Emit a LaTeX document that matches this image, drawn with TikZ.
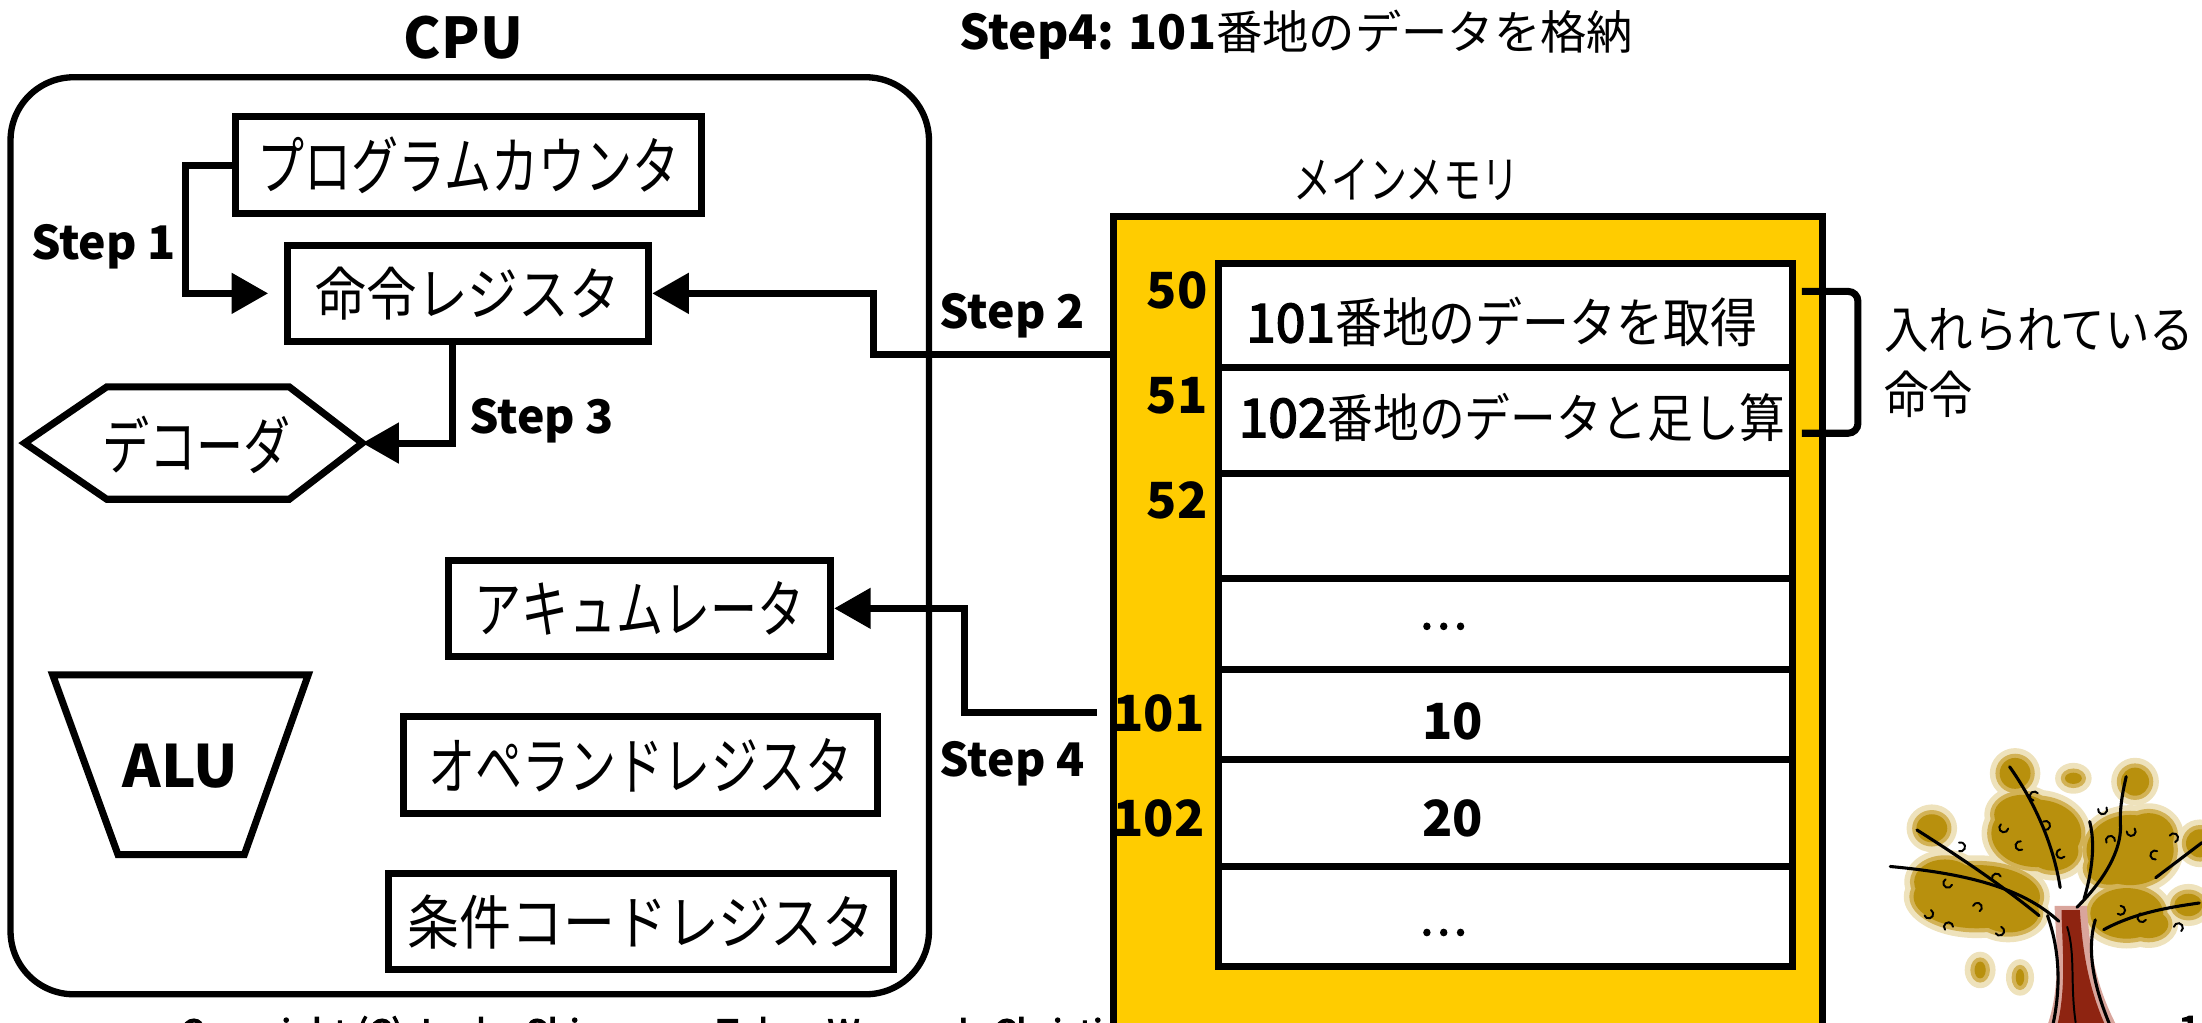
\documentclass[tikz,border=0pt]{standalone}
\usepackage{fontspec}
\setmainfont{Noto Sans CJK JP}
\newfontfamily\jpa{Noto Sans CJK JP}[FakeStretch=0.75]
\newfontfamily\jpb{Noto Sans CJK JP}[FakeStretch=0.88]
\newfontfamily\jpc{Noto Sans CJK JP}
\newfontfamily\latm{Noto Sans CJK JP}[FakeBold=3]
\usetikzlibrary{arrows.meta}
\newcommand\setfs[1]{\fontsize{#1}{#1}\selectfont}
\definecolor{memyellow}{HTML}{FFCC00}
\definecolor{leafcore}{HTML}{B8900D}
\definecolor{leafmid}{HTML}{D2B256}
\definecolor{leafhalo}{HTML}{EEE2BC}
\definecolor{bark}{HTML}{8E2411}
\definecolor{barkedge}{HTML}{D9A59C}
\tikzset{
  box/.style={draw, line width=5pt, fill=white, inner sep=0pt},
  cell/.style={draw, line width=5pt, fill=white, inner sep=0pt, minimum width=409pt},
  conn/.style={line width=5pt, -{Triangle[length=26pt,width=28pt]}},
  steplbl/.style={font=\setfs{33}\bfseries, inner sep=0pt, anchor=base west},
  jpbox/.style={font=\jpa\setfs{44.7}},
  addr/.style={font=\setfs{35.5}\bfseries, anchor=east, inner sep=0pt},
  celltxt/.style={inner sep=0pt},
  branch/.style={line width=2.2pt, line cap=round},
  curl/.style={line width=1.4pt, line cap=round},
}
\begin{document}
\begin{tikzpicture}[x=1pt, y=-1pt]
\useasboundingbox (0,0) rectangle (1568,728);
\clip (0,0) rectangle (1568,728);

% ---------------- CPU ----------------
\node[font=\setfs{40}\bfseries, inner sep=0pt, anchor=base] (cputitle) at (330,41.5) {CPU};
\draw[line width=4.5pt, rounded corners=45pt] (7.5,55) rectangle (661.5,708);

\node[box, jpbox, minimum width=332pt, minimum height=68.6pt] (pc) at (333.5,117.5) {プログラムカウンタ};
\node[box, font=\jpb\setfs{41}, minimum width=257.5pt, minimum height=68.7pt] (ir) at (333.2,208.9) {命令レジスタ};

% decoder hexagon
\draw[line width=5pt, line join=miter] (17.5,315.5) -- (76,275.5) -- (206,275.5) -- (258,315.5)
      -- (206,355.5) -- (76,355.5) -- cycle;
\node[jpbox, inner sep=0pt] (dec) at (140,317) {デコーダ};
\coordinate (decE) at (258,315.5);

\node[box, jpbox, minimum width=272pt, minimum height=68.5pt] (acc) at (455.5,433.2) {アキュムレータ};

% ALU trapezoid
\draw[line width=5pt, line join=miter] (37.5,480.5) -- (219.5,480.5) -- (174,608.5) -- (84,608.5) -- cycle;
\node[font=\setfs{41.6}\bfseries, inner sep=0pt, anchor=base] (alu) at (128.5,561) {ALU};

\node[box, jpbox, minimum width=337pt, minimum height=68.7pt] (opr) at (456,544.8) {オペランドレジスタ};
\node[box, font=\jpb\setfs{42}, minimum width=360pt, minimum height=68.5pt] (ccr) at (456.5,656.2) {条件コードレジスタ};

% ---------------- connectors ----------------
\draw[conn, shorten >=11pt] (pc.west) -- ++(-33,0) |- (ir.west);
\node[steplbl] (s1) at (22,185) {Step 1};

\draw[conn] ([xshift=-11pt]ir.south) |- (decE);
\node[steplbl] (s3) at (334,308.6) {Step 3};

\coordinate (m50) at (825,236.5);
\coordinate (k2) at (622,252.5);
\draw[conn, line join=miter] (m50) |- (k2) |- (ir.east);
\node[steplbl] (s2) at (669,234) {Step 2};

\coordinate (m101) at (781,507.5);
\coordinate (k4) at (687,507.5);
\draw[conn, line join=miter] (m101) -- (k4) |- (acc.east);
\node[steplbl] (s4) at (669,553) {Step 4};

% ---------------- header ----------------
\node[inner sep=0pt, anchor=west] (head) at (683,24.5)
  {\setfs{34}\bfseries Step4: 101\jpc\mdseries\setfs{33}番地のデータを格納};

% footer text (partly hidden behind the memory block)
\node[font=\latm\setfs{26}, inner sep=0pt, anchor=base west] (copy) at (128,745)
  {Copyright (C) Junko Shirogane, Tokyo Woman's Christian University};

% ---------------- main memory ----------------
\node[font=\jpa\setfs{36}, inner sep=0pt] (memtitle) at (1001.5,128.3) {メインメモリ};
\filldraw[fill=memyellow, line width=5pt] (793,154.5) rectangle (1297.5,745);

\node[cell, minimum height=74.5pt] (c50)  at (1072,224.75) {};
\node[cell, minimum height=75pt]   (c51)  at (1072,299.5) {};
\node[cell, minimum height=75pt]   (c52)  at (1072,374.5) {};
\node[cell, minimum height=65pt]   (cd1)  at (1072,444.5) {};
\node[cell, minimum height=64pt]   (c101) at (1072,509) {};
\node[cell, minimum height=76pt]   (c102) at (1072,579) {};
\node[cell, minimum height=71.3pt] (cd2)  at (1072,652.65) {};

\node[celltxt] (t50) at (1069.5,229) {\latm\setfs{38}101\jpb\setfs{38}番地のデータを取得};
\node[celltxt] (t51) at (1076.5,297) {\latm\setfs{38}102\jpb\setfs{37}番地のデータと足し算};
\node[celltxt, font=\latm\setfs{32}] (td1) at (1027.5,446) {…};
\node[celltxt, font=\setfs{35.5}\bfseries] (t101) at (1034.5,514) {10};
\node[celltxt, font=\setfs{35.5}\bfseries] (t102) at (1034.5,583) {20};
\node[celltxt, font=\latm\setfs{32}] (td2) at (1027.5,664) {…};

\node[addr] (a50)  at (860,206.5) {50};
\node[addr] (a51)  at (860,282) {51};
\node[addr] (a52)  at (860,356) {52};
\node[addr] (a101) at (858,508) {101};
\node[addr] (a102) at (858,583) {102};

% bracket marking the stored instructions
\draw[line width=5pt, rounded corners=7pt] (1283,207.5) -- (1323,207.5) -- (1323,308.5) -- (1283,308.5);
\node[font=\jpb\setfs{36}, inner sep=0pt, anchor=west] (inst1) at (1341.5,235.5) {入れられている};
\node[font=\jpb\setfs{36}, inner sep=0pt, anchor=west] (inst2) at (1341.5,280.7) {命令};

% ---------------- tree ----------------
\begin{scope}
\def\blobs{1407.6/638.5/45/22.5, 1385/628/22/16, 1430/650/22/14, 1450/593.4/32/24, 1440/580/20/14,
    1462/606/18/14, 1516.8/605.3/31/25, 1530/595/18/16, 1502/618/16/12,
    1514.4/650.4/26/18, 1530/658/14/10, 1434.9/550.7/11/11, 1520.3/556.6/10/10, 1375.6/589.8/11/10,
    1566.6/600.5/10/10, 1558.3/644.4/10/8, 1410/690.7/4/6, 1438.4/696/3/6, 1476.4/554.2/6/4}
\foreach \x/\y/\rx/\ry in \blobs{
  \fill[leafhalo] (\x,\y) ellipse [x radius={\rx+7}, y radius={\ry+7}];
}
\foreach \x/\y/\rx/\ry in \blobs{
  \fill[leafmid] (\x,\y) ellipse [x radius={\rx+3}, y radius={\ry+3}];
}
\foreach \x/\y/\rx/\ry in \blobs{
  \fill[leafcore] (\x,\y) ellipse [x radius=\rx, y radius=\ry];
}
% trunk
\fill[barkedge] (1458,730) .. controls (1468,700) and (1464,670) .. (1463,645)
   -- (1486,645) .. controls (1488,680) and (1494,705) .. (1507,730) -- cycle;
\fill[bark] (1465,730) .. controls (1472,700) and (1468,670) .. (1468,648)
   -- (1481,648) .. controls (1483,680) and (1488,705) .. (1499,730) -- cycle;
\draw[branch] (1462,729) .. controls (1468,700) and (1466,675) .. (1458,652);
\draw[branch] (1502,729) .. controls (1490,700) and (1486,675) .. (1492,655);
\draw[curl] (1478,728) .. controls (1474,700) and (1478,680) .. (1472,660);
% branches
\draw[branch] (1466,656) .. controls (1440,632) and (1400,622) .. (1346,617);
\draw[branch] (1452,652) .. controls (1425,630) and (1395,610) .. (1365,591);
\draw[branch] (1467,632) .. controls (1462,600) and (1448,570) .. (1431,546);
\draw[branch] (1479,646) .. controls (1500,625) and (1510,605) .. (1510,589)
   .. controls (1509,575) and (1512,562) .. (1514,553);
\draw[branch] (1498,662) .. controls (1520,650) and (1545,646) .. (1566,643);
\draw[branch] (1535,625) -- (1568,600);
\draw[branch] (1484,640) .. controls (1490,620) and (1492,600) .. (1488,585);
% small curls among the leaves
\foreach \x/\y/\a in {1390/630/20, 1405/645/200, 1420/628/120, 1375/648/300, 1440/605/60,
    1455/585/240, 1430/590/10, 1500/600/150, 1520/590/320, 1535/612/80, 1510/645/270,
    1528/655/30, 1548/660/190, 1395/600/250, 1448/570/100, 1500/575/330, 1545/595/210,
    1385/662/140, 1470/610/40, 1425/660/290}{
  \draw[curl] (\x,\y) arc[start angle=\a, delta angle=220, radius=3.2];
}
\end{scope}

\node[font=\latm\setfs{30}, inner sep=0pt, anchor=base] (pageno) at (1559,745) {1};
\end{tikzpicture}
\end{document}
